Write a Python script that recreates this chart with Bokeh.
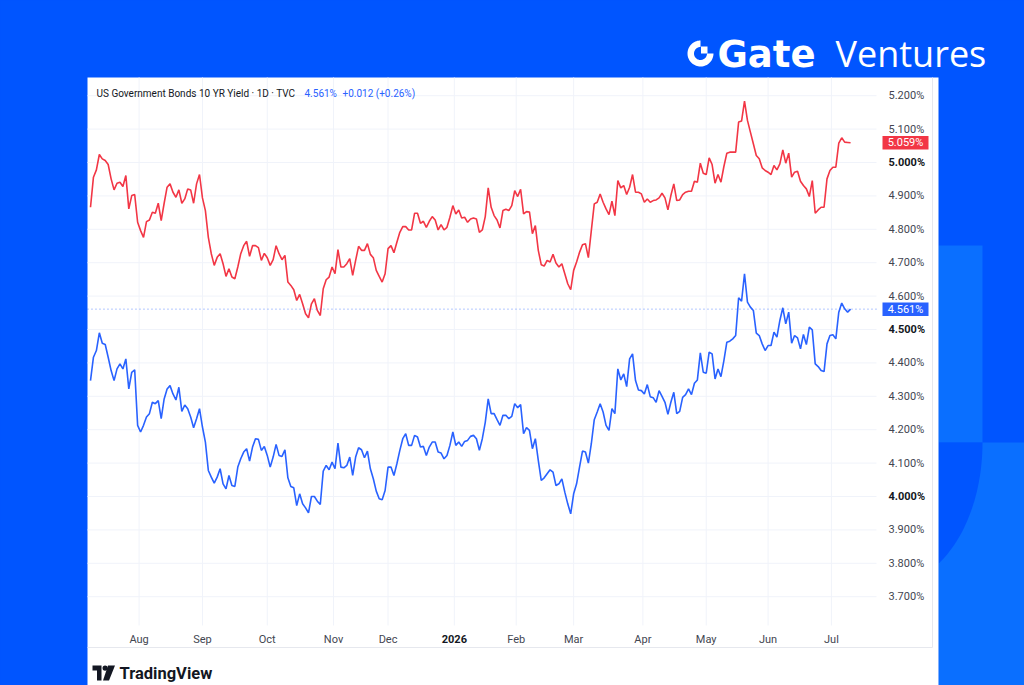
import numpy as np
from bokeh.plotting import figure
from bokeh.models import Range1d, GlobalInlineStyleSheet
from bokeh.core.properties import value
from bokeh.embed import file_html
from bokeh.resources import INLINE

# ---------------- data ----------------
month_idx = [16.5, 38, 60, 82.5, 101, 123.5, 144.5, 164, 187.5, 209, 230, 251.5]
month_labels = ["Aug", "Sep", "Oct", "Nov", "Dec", "2026", "Feb", "Mar", "Apr", "May", "Jun", "Jul"]
month_bold = ["2026"]

y_ticks = [3.7, 3.8, 3.9, 4.0, 4.1, 4.2, 4.3, 4.4, 4.5, 4.6, 4.7, 4.8, 4.9, 5.0, 5.1, 5.2]
y_bold = [4.0, 4.5, 5.0]

red_series = [
    4.866, 4.956, 4.978, 5.024, 5.011, 5.006, 4.994, 4.951, 4.918, 4.938,
    4.941, 4.928, 4.961, 4.861, 4.901, 4.904, 4.821, 4.796, 4.776, 4.823,
    4.828, 4.851, 4.848, 4.878, 4.826, 4.878, 4.926, 4.936, 4.911, 4.896,
    4.918, 4.878, 4.891, 4.921, 4.918, 4.878, 4.936, 4.964, 4.894, 4.856,
    4.776, 4.727, 4.692, 4.716,
    4.727, 4.697, 4.659, 4.682, 4.657, 4.652, 4.687, 4.727, 4.751, 4.764,
    4.719, 4.751, 4.751, 4.745, 4.707, 4.728, 4.715, 4.692, 4.709, 4.751,
    4.727, 4.709, 4.722, 4.642, 4.632, 4.619, 4.587, 4.605, 4.577, 4.547,
    4.535, 4.577, 4.592, 4.557, 4.542, 4.622, 4.649, 4.657, 4.687, 4.667,
    4.739, 4.687, 4.687,
    4.697, 4.712, 4.662, 4.707, 4.749, 4.737, 4.737, 4.757, 4.725, 4.715,
    4.677, 4.659, 4.642, 4.667, 4.742, 4.751, 4.730, 4.761, 4.791, 4.808,
    4.808, 4.798, 4.798, 4.848, 4.848, 4.818, 4.824, 4.806, 4.824, 4.838,
    4.828, 4.798, 4.814, 4.798, 4.806, 4.836, 4.871, 4.846, 4.858, 4.834,
    4.836, 4.821, 4.831,
    4.834, 4.831, 4.791, 4.798, 4.838, 4.924, 4.866, 4.841, 4.828, 4.804,
    4.856, 4.860, 4.856, 4.871, 4.916, 4.898, 4.920, 4.846, 4.853, 4.852,
    4.787, 4.811, 4.737, 4.694, 4.690, 4.707, 4.702, 4.725, 4.699, 4.687,
    4.697, 4.667, 4.637, 4.619, 4.677, 4.702, 4.731, 4.754, 4.757, 4.715,
    4.796, 4.876, 4.881, 4.906,
    4.881, 4.861, 4.844, 4.884, 4.841, 4.946, 4.924, 4.931, 4.904, 4.926,
    4.964, 4.911, 4.911, 4.906, 4.881, 4.891, 4.881, 4.886, 4.888, 4.894,
    4.908, 4.894, 4.858, 4.901, 4.936, 4.886, 4.888, 4.904, 4.911, 4.914,
    4.914, 4.944, 4.941, 4.998, 4.968, 4.964, 5.014, 4.994, 4.938, 4.964,
    4.941, 4.988, 5.028, 5.031,
    5.031, 5.031, 5.121, 5.124, 5.184, 5.126, 5.091, 5.056, 5.021, 5.011,
    4.984, 4.976, 4.971, 4.964, 4.991, 4.978, 4.996, 5.038, 4.998, 5.028,
    4.956, 4.971, 4.974, 4.944, 4.931, 4.921, 4.898, 4.946, 4.848, 4.858,
    4.866, 4.866, 4.951, 4.976, 4.986, 4.986, 5.058, 5.074, 5.061, 5.060,
    5.059,
]

us10y = [
    4.347, 4.417, 4.437, 4.490, 4.459, 4.455, 4.417, 4.377, 4.347, 4.382,
    4.397, 4.382, 4.412, 4.322, 4.372, 4.379, 4.213, 4.193, 4.213, 4.238,
    4.248, 4.282, 4.278, 4.287, 4.233, 4.292, 4.322, 4.332, 4.307, 4.289,
    4.327, 4.255, 4.274, 4.263, 4.238, 4.206, 4.233, 4.263, 4.208, 4.163,
    4.078, 4.058, 4.040, 4.058,
    4.083, 4.038, 4.023, 4.063, 4.033, 4.030, 4.088, 4.113, 4.133, 4.143,
    4.106, 4.148, 4.173, 4.171, 4.138, 4.150, 4.123, 4.088, 4.118, 4.156,
    4.123, 4.120, 4.140, 4.056, 4.030, 4.026, 3.973, 4.008, 3.978, 3.966,
    3.951, 4.000, 4.000, 3.986, 3.976, 4.076, 4.093, 4.080, 4.103, 4.083,
    4.160, 4.088, 4.086,
    4.093, 4.118, 4.063, 4.118, 4.146, 4.140, 4.116, 4.136, 4.083, 4.053,
    4.016, 3.993, 3.990, 4.018, 4.088, 4.088, 4.063, 4.098, 4.138, 4.173,
    4.188, 4.153, 4.153, 4.183, 4.178, 4.148, 4.150, 4.123, 4.148, 4.163,
    4.163, 4.133, 4.130, 4.113, 4.123, 4.153, 4.193, 4.153, 4.163, 4.150,
    4.165, 4.168, 4.180,
    4.183, 4.173, 4.138, 4.173, 4.222, 4.292, 4.248, 4.248, 4.230, 4.213,
    4.243, 4.243, 4.233, 4.240, 4.278, 4.266, 4.275, 4.188, 4.206, 4.198,
    4.143, 4.173, 4.108, 4.048, 4.056, 4.068, 4.080, 4.073, 4.033, 4.038,
    4.053, 4.013, 3.978, 3.948, 4.008, 4.038, 4.088, 4.136, 4.133, 4.100,
    4.158, 4.230, 4.253, 4.278,
    4.253, 4.213, 4.198, 4.263, 4.248, 4.382, 4.349, 4.367, 4.329, 4.412,
    4.427, 4.347, 4.319, 4.317, 4.307, 4.335, 4.299, 4.296, 4.282, 4.317,
    4.300, 4.282, 4.246, 4.282, 4.312, 4.248, 4.255, 4.297, 4.305, 4.322,
    4.305, 4.339, 4.349, 4.430, 4.372, 4.369, 4.432, 4.427, 4.352, 4.382,
    4.359, 4.407, 4.462, 4.465,
    4.472, 4.482, 4.595, 4.585, 4.667, 4.582, 4.567, 4.557, 4.489, 4.482,
    4.457, 4.437, 4.452, 4.452, 4.492, 4.477, 4.527, 4.565, 4.517, 4.552,
    4.459, 4.482, 4.475, 4.442, 4.485, 4.455, 4.507, 4.499, 4.397, 4.389,
    4.377, 4.374, 4.457, 4.482, 4.484, 4.472, 4.552, 4.579, 4.562, 4.552,
    4.561,
]

title_text = "US Government Bonds 10 YR Yield \u00b7 1D \u00b7 TVC"
change_text = "+0.012 (+0.26%)"

# ---------------- styling ----------------
BG = "#0055ff"
BG_LIGHT = "#0a6fff"
RED = "#f23645"
BLUE = "#2962ff"
GRID = "#f0f3fa"
TXT = "#434651"
DARK = "#131722"
FONT = value("Roboto")

W, H = 1024, 685
PX_PER_BAR = 2.946      # page pixels per bar
X0_PX = 90.0            # page x of bar 0
Y5_PX, PX_PER_PCT = 162.0, 334.0   # page y of 5.000 %, pixels per 1 %

# chart extents (index / value units)
chart_x = (-1.02, 266.8)
chart_y = (3.6138, 5.2545)

idx = list(range(len(us10y)))

p = figure(width=W, height=H, output_backend="svg", toolbar_location=None,
           x_range=Range1d(0, W), y_range=Range1d(H, 0),
           x_axis_type=None, y_axis_type=None,
           min_border=0, min_border_left=0, min_border_right=0,
           min_border_top=0, min_border_bottom=0)
p.stylesheets = [GlobalInlineStyleSheet(css="html, body { background: #0055ff; }")]
p.outline_line_color = None
p.background_fill_color = BG
p.border_fill_color = BG
p.extra_x_ranges = {"idx": Range1d(-X0_PX / PX_PER_BAR, (W - X0_PX) / PX_PER_BAR)}
p.extra_y_ranges = {"val": Range1d(5 - (H - Y5_PX) / PX_PER_PCT, 5 + Y5_PX / PX_PER_PCT)}

# ---------------- background decoration ----------------
p.quad(left=[938, 938], right=[982, 1024], top=[245, 442], bottom=[442, 685],
       fill_color=BG_LIGHT, line_color=None)
th = np.linspace(0, np.pi / 2, 60)
ex = 890 + 92 * np.cos(th)
ey = 442 + 142 * np.sin(th)
keep = ex >= 938
p.patch([938.0] + list(ex[keep]) + [938.0],
        [442.0] + list(ey[keep]) + [float(ey[keep][-1])],
        fill_color=BG, line_color=None)

# white panel
p.quad(left=[87], right=[938], top=[77], bottom=[685], fill_color="white", line_color=None)
# widget border lines
p.segment(x0=[932, 87], y0=[77, 647], x1=[932, 932], y1=[647, 647],
          line_color="#e6e8ee", line_width=1)

# ---------------- chart ----------------
n_y = len(y_ticks)
p.segment(x0=[chart_x[0]] * n_y, x1=[chart_x[1]] * n_y, y0=y_ticks, y1=y_ticks,
          x_range_name="idx", y_range_name="val", line_color=GRID, line_width=1)
n_m = len(month_idx)
p.segment(x0=month_idx, x1=month_idx, y0=[chart_y[0]] * n_m, y1=[chart_y[1]] * n_m,
          x_range_name="idx", y_range_name="val", line_color=GRID, line_width=1)

p.line(idx, red_series, x_range_name="idx", y_range_name="val",
       line_color=RED, line_width=1.6)
p.line(idx, us10y, x_range_name="idx", y_range_name="val",
       line_color=BLUE, line_width=1.6)
p.segment(x0=[chart_x[0]], x1=[chart_x[1]], y0=[us10y[-1]], y1=[us10y[-1]],
          x_range_name="idx", y_range_name="val",
          line_color=BLUE, line_alpha=0.7, line_width=1, line_dash="1 3")

# y-axis labels
y_norm = [t for t in y_ticks if t not in y_bold]
p.text(x=[888] * len(y_norm), y=y_norm, text=[f"{t:.3f}%" for t in y_norm],
       y_range_name="val", text_font=FONT, text_font_size="11px", text_color=TXT,
       text_align="left", text_baseline="middle")
p.text(x=[888] * len(y_bold), y=y_bold, text=[f"{t:.3f}%" for t in y_bold],
       y_range_name="val", text_font=FONT, text_font_size="11px", text_color=DARK,
       text_font_style="bold", text_align="left", text_baseline="middle")

# x-axis labels
m_norm = [(t, l) for t, l in zip(month_idx, month_labels) if l not in month_bold]
m_bold = [(t, l) for t, l in zip(month_idx, month_labels) if l in month_bold]
p.text(x=[t for t, _ in m_norm], y=[638.5] * len(m_norm), text=[l for _, l in m_norm],
       x_range_name="idx", text_font=FONT, text_font_size="11px", text_color=TXT,
       text_align="center", text_baseline="middle")
p.text(x=[t for t, _ in m_bold], y=[638.5] * len(m_bold), text=[l for _, l in m_bold],
       x_range_name="idx", text_font=FONT, text_font_size="11px", text_color=DARK,
       text_font_style="bold", text_align="center", text_baseline="middle")

# last-value tags
last_vals = [red_series[-1], us10y[-1]]
p.rect(x=[905, 905], y=last_vals, width=46, height=13.5, width_units="screen",
       height_units="screen", y_range_name="val", fill_color=[RED, BLUE], line_color=None)
p.text(x=[905, 905], y=last_vals, text=[f"{v:.3f}%" for v in last_vals],
       y_range_name="val", text_font=FONT, text_font_size="11px", text_color="white",
       text_align="center", text_baseline="middle")

# title row
p.text(x=[96], y=[92.5], text=[title_text], text_font=FONT, text_font_size="10px",
       text_color=DARK, text_baseline="middle")
p.text(x=[304, 342], y=[92.5, 92.5], text=[f"{us10y[-1]:.3f}%", change_text],
       text_font=FONT, text_font_size="10px", text_color=BLUE, text_baseline="middle")

# ---------------- logos ----------------
cx, cy, ro, ri = 700.0, 53.0, 13.0, 6.5
a = np.linspace(np.pi / 2, 2 * np.pi, 60)
p.patch(list(cx + ro * np.cos(a)) + list(cx + ri * np.cos(a[::-1])),
        list(cy - ro * np.sin(a)) + list(cy - ri * np.sin(a[::-1])),
        fill_color="white", line_color=None)
p.quad(left=[cx + 0.5], right=[cx + 7.0], top=[cy - 7.0], bottom=[cy],
       fill_color="white", line_color=None)
p.text(x=[717], y=[53.5], text=["Gate"], text_font=value("DejaVu Sans"),
       text_font_style="bold", text_font_size="37px", text_color="white",
       text_baseline="middle")
p.text(x=[835], y=[53], text=["Ventures"], text_font=value("Open Sans"),
       text_font_size="36px", text_color="white", text_baseline="middle")

tv_t = [(92, 665), (101, 665), (101, 680), (96.5, 680), (96.5, 670), (92, 670)]
p.patch([q[0] for q in tv_t], [q[1] for q in tv_t], fill_color=DARK, line_color=None)
p.circle(x=[104.6], y=[667.6], radius=2.6, fill_color=DARK, line_color=None)
tv_s = [(107.5, 665), (114.5, 665), (108.5, 680), (102.5, 680)]
p.patch([q[0] for q in tv_s], [q[1] for q in tv_s], fill_color=DARK, line_color=None)
p.text(x=[119], y=[672.5], text=["TradingView"], text_font=FONT, text_font_style="bold",
       text_font_size="16.5px", text_color=DARK, text_baseline="middle")

open("out.html", "w").write(file_html(p, INLINE))
